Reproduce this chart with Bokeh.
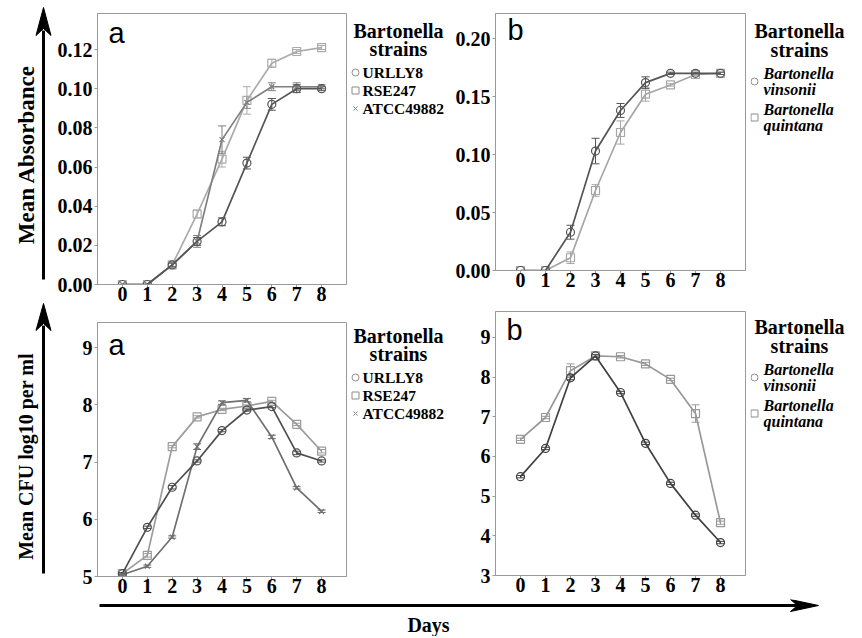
import math
from bokeh.plotting import figure
from bokeh.models import (Range1d, FixedTicker, PrintfTickFormatter, Label,
                          ColumnDataSource, Whisker, TeeHead)
from bokeh.core.properties import value
from bokeh.layouts import row, column
from bokeh.embed import file_html
from bokeh.resources import INLINE

# ---------------- data ----------------
days = [0, 1, 2, 3, 4, 5, 6, 7, 8]

# (a) top: mean absorbance
abs_a_urlly8 = [0.000, 0.000, 0.010, 0.022, 0.032, 0.062, 0.092, 0.100, 0.100]
abs_a_urlly8_err = [0, 0, 0.001, 0.002, 0.002, 0.003, 0.003, 0.002, 0.001]
abs_a_rse247 = [0.000, 0.000, 0.010, 0.036, 0.064, 0.094, 0.113, 0.119, 0.121]
abs_a_rse247_err = [0, 0, 0.001, 0.002, 0.004, 0.007, 0.002, 0.001, 0.001]
abs_a_atcc = [0.000, 0.000, 0.010, 0.022, 0.074, 0.093, 0.101, 0.101, 0.101]
abs_a_atcc_err = [0, 0, 0.001, 0.003, 0.007, 0.003, 0.002, 0.002, 0.001]

# (b) top: mean absorbance
abs_b_vinsonii = [0.000, 0.000, 0.033, 0.103, 0.138, 0.162, 0.170, 0.170, 0.170]
abs_b_vinsonii_err = [0, 0, 0.006, 0.011, 0.006, 0.005, 0.001, 0.001, 0.001]
abs_b_quintana = [0.000, 0.000, 0.011, 0.069, 0.119, 0.152, 0.160, 0.169, 0.170]
abs_b_quintana_err = [0, 0, 0.005, 0.005, 0.010, 0.006, 0.001, 0.001, 0.001]

# (a) bottom: mean CFU log10 per ml
cfu_a_urlly8 = [5.05, 5.86, 6.56, 7.02, 7.55, 7.91, 7.97, 7.16, 7.02]
cfu_a_urlly8_err = [0.02, 0.02, 0.03, 0.02, 0.02, 0.02, 0.02, 0.03, 0.02]
cfu_a_rse247 = [5.05, 5.37, 7.27, 7.79, 7.92, 7.98, 8.06, 7.66, 7.19]
cfu_a_rse247_err = [0.02, 0.03, 0.02, 0.02, 0.02, 0.02, 0.02, 0.02, 0.03]
cfu_a_atcc = [5.03, 5.18, 5.69, 7.27, 8.04, 8.08, 7.44, 6.55, 6.14]
cfu_a_atcc_err = [0.02, 0.02, 0.02, 0.05, 0.03, 0.03, 0.03, 0.02, 0.02]

# (b) bottom: mean CFU log10 per ml
cfu_b_vinsonii = [5.49, 6.20, 7.98, 8.53, 7.61, 6.33, 5.32, 4.52, 3.83]
cfu_b_vinsonii_err = [0.03, 0.03, 0.05, 0.03, 0.03, 0.03, 0.03, 0.03, 0.03]
cfu_b_quintana = [6.43, 6.98, 8.16, 8.53, 8.51, 8.33, 7.94, 7.08, 4.33]
cfu_b_quintana_err = [0.03, 0.03, 0.17, 0.04, 0.03, 0.04, 0.03, 0.22, 0.04]

abs_a_ticks = [0.00, 0.02, 0.04, 0.06, 0.08, 0.10, 0.12]
abs_b_ticks = [0.00, 0.05, 0.10, 0.15, 0.20]
cfu_a_ticks = [5, 6, 7, 8, 9]
cfu_b_ticks = [3, 4, 5, 6, 7, 8, 9]

legend_a = ["URLLY8", "RSE247", "ATCC49882"]
legend_a_markers = ["circle", "square", "x"]
legend_b = [["Bartonella", "vinsonii"], ["Bartonella", "quintana"]]
legend_b_markers = ["circle", "square"]

SERIF = "Liberation Serif"
GRAY = "#9a9a9a"
LEGEND_GRAY = "#8c8c8c"


def make_panel(fig_box, frame_box, y_range, yticks, fmt):
    fx0, fy0, fx1, fy1 = fig_box
    gx0, gy0, gx1, gy1 = frame_box
    p = figure(width=fx1 - fx0, height=fy1 - fy0, output_backend="svg",
               toolbar_location=None, x_range=Range1d(-1, 9),
               y_range=Range1d(*y_range),
               min_border_left=gx0 - fx0, min_border_right=fx1 - gx1,
               min_border_top=gy0 - fy0, min_border_bottom=fy1 - gy1)
    p.xgrid.visible = False
    p.ygrid.visible = False
    p.outline_line_color = GRAY
    p.outline_line_width = 1
    p.xaxis.ticker = FixedTicker(ticks=days)
    p.yaxis.ticker = FixedTicker(ticks=yticks)
    p.yaxis.formatter = PrintfTickFormatter(format=fmt)
    p.axis.axis_label = None
    p.axis.axis_line_color = GRAY
    p.axis.major_tick_line_color = GRAY
    p.axis.minor_tick_line_color = None
    p.axis.major_tick_in = 0
    p.axis.major_tick_out = 3
    p.axis.major_label_text_font = SERIF
    p.axis.major_label_text_font_style = "bold"
    p.axis.major_label_text_font_size = "20px"
    p.axis.major_label_text_color = "black"
    p.xaxis.major_label_standoff = -1
    p.yaxis.major_label_standoff = 2
    p.background_fill_color = "white"
    p.border_fill_color = "white"
    p._frame = (gx0, gy1)
    return p


def letter(p, ix, iy, text):
    gx0, gy1 = p._frame
    p.add_layout(Label(x=ix - gx0, y=gy1 - iy, x_units="screen",
                       y_units="screen", text=text,
                       text_font="Liberation Sans", text_font_style="normal",
                       text_font_size="29px", text_align="center",
                       text_baseline="middle", text_color="black"))


def add_series(p, y, err, color, marker, size):
    src = ColumnDataSource(dict(x=days, y=y))
    p.line("x", "y", source=src, line_color=color, line_width=1.7)
    p.scatter("x", "y", source=src, marker=marker, size=size,
              line_color=color, fill_color=None, line_width=1.2)
    xs = [d for d, e in zip(days, err) if e > 0]
    lo = [v - e for v, e in zip(y, err) if e > 0]
    hi = [v + e for v, e in zip(y, err) if e > 0]
    esrc = ColumnDataSource(dict(x=xs, lo=lo, hi=hi))
    p.add_layout(Whisker(source=esrc, base="x", lower="lo", upper="hi",
                         line_color=color, line_width=1,
                         upper_head=TeeHead(size=8, line_color=color, line_width=1),
                         lower_head=TeeHead(size=8, line_color=color, line_width=1)))


# decoration / legend areas drawn in image pixel coordinates
def strip(x0, x1, y0, y1):
    s = figure(width=x1 - x0, height=y1 - y0, output_backend="svg",
               toolbar_location=None, x_range=Range1d(x0, x1),
               y_range=Range1d(y1, y0), x_axis_type=None, y_axis_type=None,
               min_border=0, min_border_left=0, min_border_right=0,
               min_border_top=0, min_border_bottom=0)
    s.outline_line_color = None
    s.background_fill_color = "white"
    s.border_fill_color = "white"
    s.xgrid.visible = False
    s.ygrid.visible = False
    return s


def txt(s, x, y, t, size, style="bold", align="left"):
    s.text(x=[x], y=[y], text=[t], text_align=align, text_baseline="middle",
           text_font=value(SERIF), text_font_style=style,
           text_font_size=f"{size}px", text_color="black")


def legend_a_fig(x0, x1, y0, y1, top):
    s = strip(x0, x1, y0, y1)
    txt(s, 398, top, "Bartonella", 20, align="center")
    txt(s, 398, top + 18, "strains", 20, align="center")
    for i, (m, t) in enumerate(zip(legend_a_markers, legend_a)):
        yy = top + 42 + 18 * i
        s.scatter([355], [yy], marker=m, size=7 if m != "x" else 6,
                  line_color=LEGEND_GRAY, fill_color=None, line_width=1)
        txt(s, 362, yy, t, 15.5)
    return s


def legend_b_fig(x0, x1, y0, y1, top):
    s = strip(x0, x1, y0, y1)
    txt(s, 799, top, "Bartonella", 20, align="center")
    txt(s, 799, top + 19, "strains", 20, align="center")
    for i, (m, t) in enumerate(zip(legend_b_markers, legend_b)):
        y1_ = top + 43 + 36 * i
        s.scatter([754], [y1_ + 8], marker=m, size=7,
                  line_color=LEGEND_GRAY, fill_color=None, line_width=1)
        txt(s, 763, y1_, t[0], 16, style="bold italic")
        txt(s, 763, y1_ + 16, t[1], 16, style="bold italic")
    return s


# column boundaries (image pixels)
XL, XA, XB, XC, XR = 52, 348, 450, 750, 860
# row boundaries for the "a" column and the "b" column
A_MID, B_MID, R_BOT, BOTTOM = 308, 302, 599, 636

# ---------------- panels ----------------
tl = make_panel((XL, 0, XA, A_MID), (97, 13, 346, 284), (0, 0.1384), abs_a_ticks, "%.2f")
add_series(tl, abs_a_rse247, abs_a_rse247_err, "#ababab", "square", 8)
add_series(tl, abs_a_atcc, abs_a_atcc_err, "#7f7f7f", "x", 7)
add_series(tl, abs_a_urlly8, abs_a_urlly8_err, "#555555", "circle", 8)
letter(tl, 116, 32, "a")
tl_leg = legend_a_fig(XA, XB, 0, A_MID, 30)

bl = make_panel((XL, A_MID, XA, R_BOT), (97, 322, 346, 576), (5, 9.44), cfu_a_ticks, "%d")
add_series(bl, cfu_a_rse247, cfu_a_rse247_err, "#9c9c9c", "square", 8)
add_series(bl, cfu_a_atcc, cfu_a_atcc_err, "#6f6f6f", "x", 7)
add_series(bl, cfu_a_urlly8, cfu_a_urlly8_err, "#4f4f4f", "circle", 8)
letter(bl, 116, 344, "a")
bl_leg = legend_a_fig(XA, XB, A_MID, R_BOT, 335)

tr = make_panel((XB, 0, XC, B_MID), (495, 13, 746, 270), (0, 0.2216), abs_b_ticks, "%.2f")
add_series(tr, abs_b_quintana, abs_b_quintana_err, "#a6a6a6", "square", 8)
add_series(tr, abs_b_vinsonii, abs_b_vinsonii_err, "#555555", "circle", 8)
letter(tr, 515, 29, "b")
tr_leg = legend_b_fig(XC, XR, 0, B_MID, 30)

br = make_panel((XB, B_MID, XC, R_BOT), (495, 311, 745, 575), (3, 9.65), cfu_b_ticks, "%d")
add_series(br, cfu_b_quintana, cfu_b_quintana_err, "#999999", "square", 8)
add_series(br, cfu_b_vinsonii, cfu_b_vinsonii_err, "#404040", "circle", 8)
letter(br, 514, 329, "b")
br_leg = legend_b_fig(XC, XR, B_MID, R_BOT, 326)

# ---------------- axes arrows and titles ----------------
left = strip(0, XL, 0, R_BOT)
left.line([43, 43], [279, 30], line_color="black", line_width=3)
left.patch([43, 35.5, 43, 50.5], [7, 35, 28, 35], color="black")
left.line([43, 43], [573, 325], line_color="black", line_width=3)
left.patch([43, 35.5, 43, 50.5], [303, 330, 323, 330], color="black")
left.text(x=[26], y=[154], text=["Mean Absorbance"], angle=math.pi / 2,
          text_align="center", text_baseline="middle",
          text_font=value(SERIF), text_font_style="bold", text_font_size="23px")
left.text(x=[25], y=[456], text=["Mean CFU log10 per ml"], angle=math.pi / 2,
          text_align="center", text_baseline="middle",
          text_font=value(SERIF), text_font_style="bold", text_font_size="20px")

bottom = strip(0, XR, R_BOT, BOTTOM)
bottom.line([99, 800], [605, 605], line_color="black", line_width=3)
bottom.patch([818, 790, 797, 790], [605, 599, 605, 611], color="black")
bottom.text(x=[428], y=[624], text=["Days"], text_align="center",
            text_baseline="middle", text_font=value(SERIF),
            text_font_style="bold", text_font_size="20px")

col_a = column(tl, bl)
col_a_leg = column(tl_leg, bl_leg)
col_b = column(tr, br)
col_b_leg = column(tr_leg, br_leg)
layout = column(row(left, col_a, col_a_leg, col_b, col_b_leg), bottom)

open("out.html", "w").write(file_html(layout, INLINE))
